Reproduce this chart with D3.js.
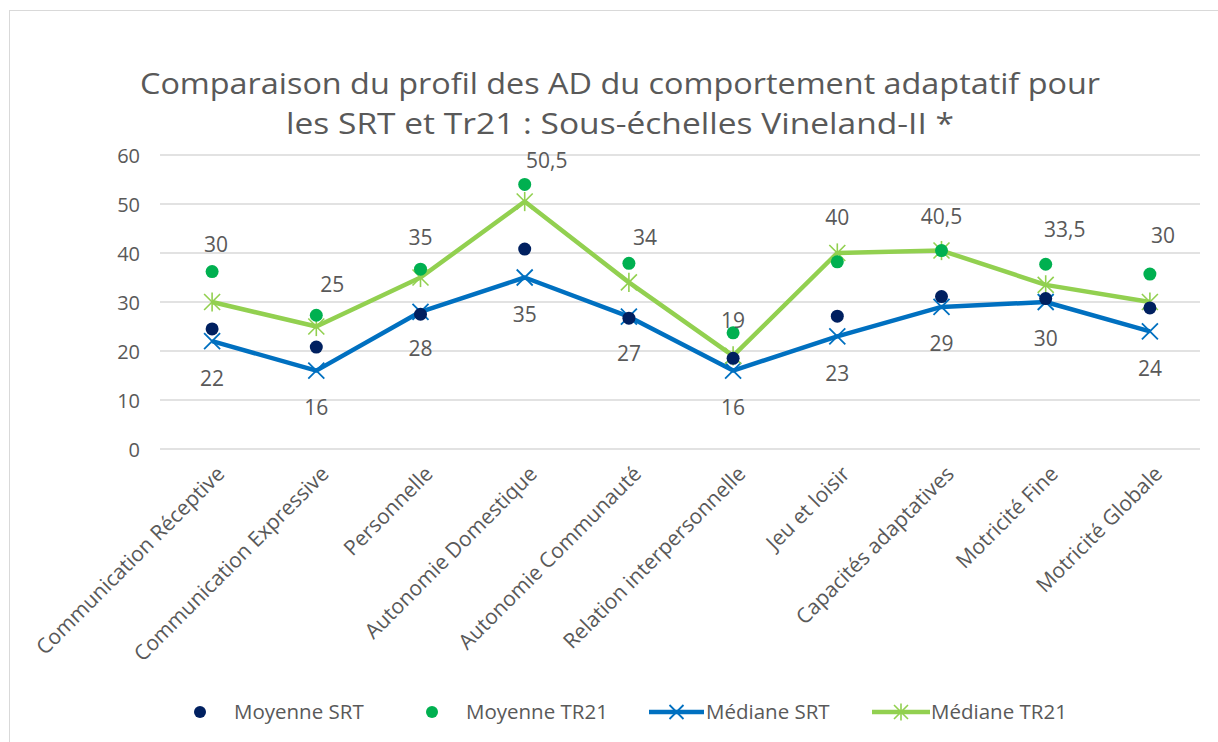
<!DOCTYPE html>
<html><head><meta charset="utf-8">
<script src="https://cdn.jsdelivr.net/npm/d3@7"></script>
<style>
body{margin:0;background:#fff;}
svg{display:block;font-family:"Open Sans",sans-serif;}
</style></head>
<body><svg id="chart" width="1218" height="742"></svg>
<script>
const categories = ["Communication Réceptive","Communication Expressive","Personnelle","Autonomie Domestique","Autonomie Communauté","Relation interpersonnelle","Jeu et loisir","Capacités adaptatives","Motricité Fine","Motricité Globale"];
const moyenneSRT  = [24.5, 20.8, 27.5, 40.8, 26.7, 18.5, 27.1, 31.1, 30.7, 28.8];
const moyenneTR21 = [36.2, 27.3, 36.7, 54.0, 37.9, 23.7, 38.2, 40.5, 37.7, 35.7];
const medianeSRT  = [22, 16, 28, 35, 27, 16, 23, 29, 30, 24];
const medianeTR21 = [30, 25, 35, 50.5, 34, 19, 40, 40.5, 33.5, 30];
const yTicks = [0, 10, 20, 30, 40, 50, 60];
const seriesNames = ["Moyenne SRT","Moyenne TR21","Médiane SRT","Médiane TR21"];
const titleLines = ["Comparaison du profil des AD du comportement adaptatif pour","les SRT et Tr21 : Sous-échelles Vineland-II *"];
// manual label nudges (px) for the Médiane TR21 labels, as in the original
const tr21LabelNudge = [[4,-57],[16,-42],[0,-40],[22,-41],[16,-45],[0,-35],[0,-35],[0,-34],[19,-55],[13,-66]];

const C = {navy:"#002060", green:"#00B050", blue:"#0070C0", lime:"#92D050", text:"#595959", grid:"#d9d9d9"};
const svg = d3.select("#chart");

// border
svg.append("rect").attr("x",9.5).attr("y",10.5).attr("width",1240).attr("height",760)
  .attr("fill","none").attr("stroke","#d9d9d9").attr("stroke-width",1);

// title
const titleWidths = [960, 668];
svg.selectAll("text.title").data(titleLines).join("text").attr("class","title")
  .attr("x",620).attr("y",(d,i)=>94+i*40).attr("text-anchor","middle")
  .attr("font-size",29).attr("fill",C.text)
  .attr("textLength",(d,i)=>titleWidths[i]).attr("lengthAdjust","spacingAndGlyphs").text(d=>d);

const x = d3.scalePoint().domain(categories).range([160,1202]).padding(0.5);
const y = d3.scaleLinear().domain([0,60]).range([449,155]);

// grid
svg.append("g").selectAll("line").data(yTicks).join("line")
  .attr("x1",160).attr("x2",1200).attr("y1",d=>y(d)).attr("y2",d=>y(d))
  .attr("stroke",C.grid).attr("stroke-width",1.5);

// y axis labels
const yAxis = svg.append("g").attr("transform","translate(140,0)")
  .call(d3.axisLeft(y).tickValues(yTicks).tickSize(0).tickPadding(0));
yAxis.select(".domain").remove();
yAxis.selectAll("text").attr("font-size",20).attr("fill",C.text).attr("font-family","Open Sans").attr("dy","0.35em");

// x axis labels
const xAxis = svg.append("g").attr("transform","translate(0,455)")
  .call(d3.axisBottom(x).tickSize(0).tickPadding(0));
xAxis.select(".domain").remove();
xAxis.selectAll("text").attr("font-size",21).attr("fill",C.text).attr("font-family","Open Sans")
  .attr("text-anchor","end").attr("dy","0.35em")
  .attr("transform","translate(8,15) rotate(-45)").attr("x",0).attr("y",0);

// lines
const line = vals => d3.line().x((d,i)=>x(categories[i])).y(d=>y(d))(vals);
svg.append("path").attr("d",line(medianeSRT)).attr("fill","none").attr("stroke",C.blue).attr("stroke-width",4.5).attr("stroke-linejoin","round");
svg.append("path").attr("d",line(medianeTR21)).attr("fill","none").attr("stroke",C.lime).attr("stroke-width",4.5).attr("stroke-linejoin","round");

function xMarker(g, cx, cy, s, col, sw){
  g.append("path").attr("d",`M${cx-s},${cy-s}L${cx+s},${cy+s}M${cx-s},${cy+s}L${cx+s},${cy-s}`)
   .attr("stroke",col).attr("stroke-width",sw).attr("fill","none");
}
function starMarker(g, cx, cy, s, col, sw){
  xMarker(g,cx,cy,s,col,sw);
  g.append("path").attr("d",`M${cx},${cy-s*1.2}L${cx},${cy+s*1.2}`).attr("stroke",col).attr("stroke-width",sw);
}
const mk = svg.append("g");
medianeSRT.forEach((v,i)=>xMarker(mk,x(categories[i]),y(v),8,C.blue,1.8));
medianeTR21.forEach((v,i)=>starMarker(mk,x(categories[i]),y(v),8,C.lime,1.6));

// dots
svg.append("g").selectAll("circle").data(moyenneTR21).join("circle")
  .attr("cx",(d,i)=>x(categories[i])).attr("cy",d=>y(d)).attr("r",6.5).attr("fill",C.green);
svg.append("g").selectAll("circle").data(moyenneSRT).join("circle")
  .attr("cx",(d,i)=>x(categories[i])).attr("cy",d=>y(d)).attr("r",6.5).attr("fill",C.navy);

// data labels
const fmt = v => String(v).replace(".",",");
svg.append("g").selectAll("text").data(medianeSRT).join("text")
  .attr("x",(d,i)=>x(categories[i])).attr("y",d=>y(d)+37).attr("dy","0.35em")
  .attr("text-anchor","middle").attr("font-size",21).attr("fill",C.text).text(fmt);
svg.append("g").selectAll("text").data(medianeTR21).join("text")
  .attr("x",(d,i)=>x(categories[i])+tr21LabelNudge[i][0]).attr("y",(d,i)=>y(d)+tr21LabelNudge[i][1]).attr("dy","0.35em")
  .attr("text-anchor","middle").attr("font-size",21).attr("fill",C.text).text(fmt);

// legend
const lg = svg.append("g");
const ly = 712;
lg.append("circle").attr("cx",200).attr("cy",ly).attr("r",6).attr("fill",C.navy);
lg.append("circle").attr("cx",432).attr("cy",ly).attr("r",6).attr("fill",C.green);
lg.append("line").attr("x1",649).attr("x2",704).attr("y1",ly).attr("y2",ly).attr("stroke",C.blue).attr("stroke-width",4.5);
xMarker(lg,676.5,ly,7,C.blue,1.8);
lg.append("line").attr("x1",872).attr("x2",930).attr("y1",ly).attr("y2",ly).attr("stroke",C.lime).attr("stroke-width",4.5);
starMarker(lg,901,ly,7,C.lime,1.6);
const lx = [234,466,706,931];
lg.selectAll("text").data(seriesNames).join("text")
  .attr("x",(d,i)=>lx[i]).attr("y",ly).attr("dy","0.35em")
  .attr("font-size",20.5).attr("fill",C.text).text(d=>d);
</script></body></html>
